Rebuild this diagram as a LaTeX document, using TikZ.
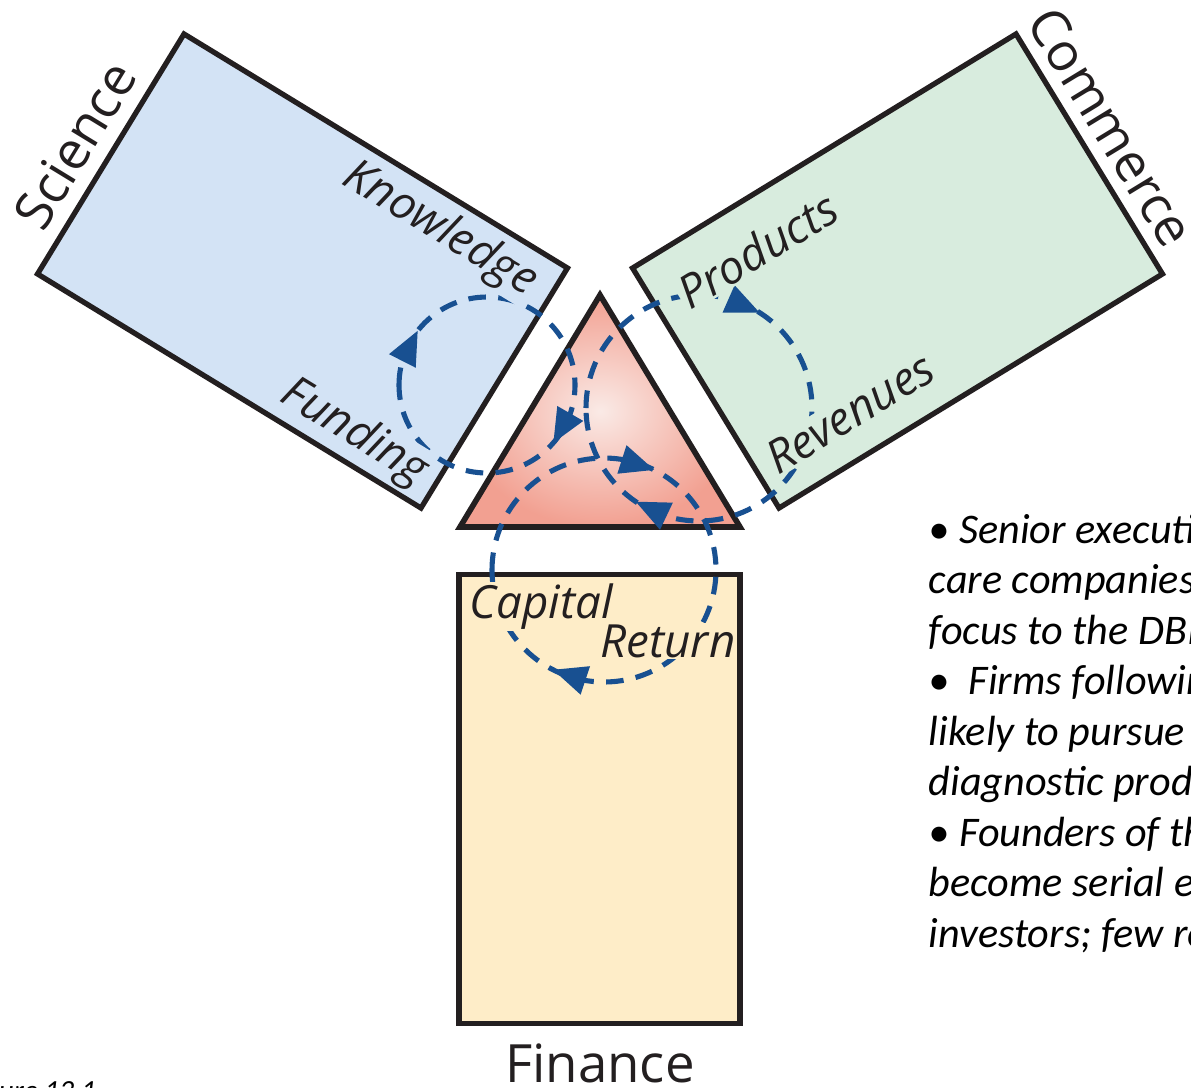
\documentclass[tikz,border=0pt]{standalone}
\usepackage{fontspec}
\newfontfamily\labelfont{Open Sans}
\newfontfamily\notefont{Carlito}
\usetikzlibrary{calc}

\definecolor{sciFill}{HTML}{D3E3F5}
\definecolor{comFill}{HTML}{D8ECDE}
\definecolor{finFill}{HTML}{FEEDC8}
\definecolor{triInner}{HTML}{FAEAE6}
\definecolor{triOuter}{HTML}{F2A091}
\definecolor{flowBlue}{HTML}{185091}
\definecolor{edgeBlack}{HTML}{231F20}

\tikzset{
  sector/.style={draw=edgeBlack, line width=1.5pt, minimum width=4.49cm,
    minimum height=2.81cm, inner sep=0pt},
  sectortitle/.style={font=\labelfont\fontsize{15}{18}\selectfont, text=edgeBlack},
  flowlabel/.style={font=\labelfont\itshape\fontsize{13}{15}\selectfont,
    text=edgeBlack, inner sep=0.5pt},
  cycleflow/.style={draw=flowBlue, line width=1.45pt, dash pattern=on 5pt off 3.5pt},
  note/.style={font=\notefont\itshape\fontsize{12}{14}\selectfont, inner sep=0pt}
}

\begin{document}
\begin{tikzpicture}[x=0.01cm, y=0.01cm]
  \useasboundingbox (0,0) rectangle (1191,-1087);
  \clip (0,0) rectangle (1191,-1087);

  % the three sectors
  \node[sector, fill=sciFill, rotate=-31.4] (science)  at (302.5,-271) {};
  \node[sector, fill=comFill, rotate=31.4]  (commerce) at (897.5,-271) {};
  \node[sector, fill=finFill, rotate=90]    (finance)  at (599.5,-799) {};

  % centre triangle
  \coordinate (apex)  at (600,-295);
  \coordinate (baseR) at (740,-527);
  \coordinate (baseL) at (460,-527);
  \shade[inner color=triInner, outer color=triOuter] (apex) -- (baseR) -- (baseL) -- cycle;
  \draw[edgeBlack, line width=1.6pt] (apex) -- (baseR) -- (baseL) -- cycle;

  % dashed cycles, all clockwise
  \coordinate (sciC) at (487,-385);
  \coordinate (comC) at (699,-408);
  \coordinate (finC) at (604,-570);
  \draw[cycleflow] (sciC) ++(180:88)  arc[start angle=180, end angle=-180, radius=88];
  \draw[cycleflow] (comC) ++(180:113) arc[start angle=180, end angle=-180, radius=113];
  \draw[cycleflow] (finC) ++(180:112) arc[start angle=180, end angle=-180, radius=112];

  % arrow heads: centre / radius / angle of the tip (base sits on the circle)
  \foreach \c/\r/\a in {sciC/88/142, sciC/88/-41, comC/113/57.6, comC/113/-124,
                        finC/112/63.4, finC/112/-117} {
    \pgfmathsetmacro\d{34/\r*57.3}
    \fill[flowBlue] ($(\c)+(\a:\r)$)
      -- ($(\c)+(\a+\d:\r)+(\a+\d/2:15)$)
      -- ($(\c)+(\a+\d:\r)-(\a+\d/2:15)$) -- cycle;
  }

  % flow labels
  \node[flowlabel, fill=sciFill, rotate=-31.4] (knowledge) at (440,-230) {Knowledge};
  \node[flowlabel, fill=sciFill, rotate=-31.4] (funding)   at (354,-433) {Funding};
  \node[flowlabel, fill=comFill, rotate=31.4]  (products)  at (757,-250) {Products};
  \node[flowlabel, fill=comFill, rotate=31.4]  (revenues)  at (850,-413) {Revenues};
  \node[flowlabel, fill=finFill, anchor=base]  (capital)   at (541,-618) {Capital};
  \node[flowlabel, fill=finFill, anchor=base]  (return)    at (668,-657) {Return};

  % sector titles
  \node[sectortitle, rotate=58.6]  (scienceT)  at (75,-145)   {Science};
  \node[sectortitle, rotate=-58.6] (commerceT) at (1111,-127) {Commerce};
  \node[sectortitle, anchor=base]  (financeT)  at (600,-1082) {Finance};

  % notes on the right, cut by the page edge
  \foreach \txt [count=\i from 0] in {%
      {• Senior executives},
      {care companies o},
      {focus to the DBI},
      {•\ \ Firms followin},
      {likely to pursue t},
      {diagnostic produ},
      {• Founders of the},
      {become serial en},
      {investors; few re}} {
    \node[note, anchor=base west] (note\i) at (928,{-543-50.5*\i}) {\txt};
  }

  \node[note, font=\notefont\itshape\fontsize{8.3}{10}\selectfont, anchor=base east]
    (caption) at (97,-1100) {Figure 13.1};
\end{tikzpicture}
\end{document}
